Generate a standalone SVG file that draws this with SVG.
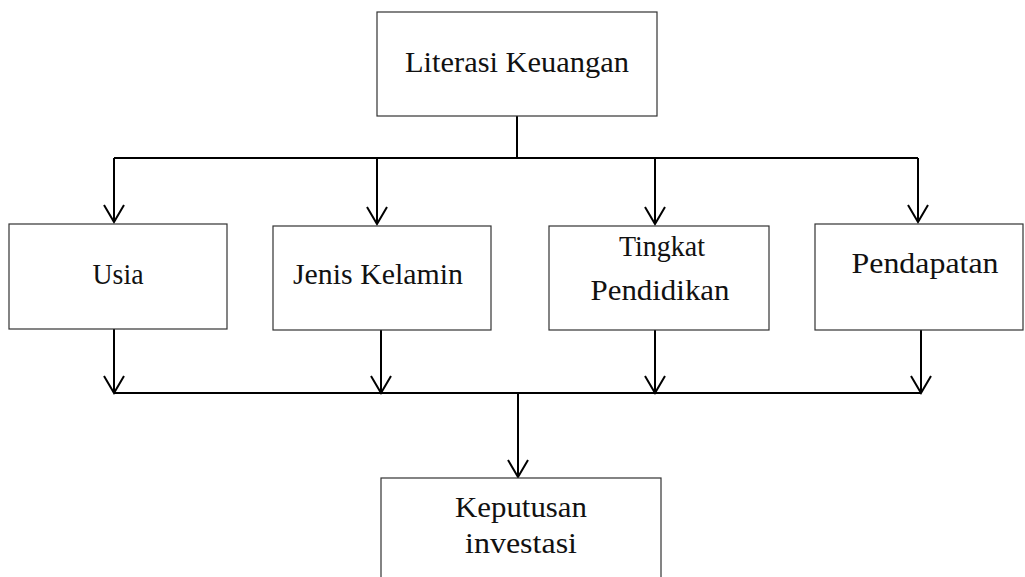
<svg xmlns="http://www.w3.org/2000/svg" width="1025" height="577" viewBox="0 0 1025 577">
<defs>
<style>
.box{fill:#fff;stroke:#333;stroke-width:1.2}
.lbl{font-family:"Liberation Serif","Times New Roman",serif;font-size:29px;fill:#111;text-anchor:middle}
.con{stroke:#000;stroke-width:2;fill:none}
</style>
<marker id="arr" markerUnits="userSpaceOnUse" orient="auto" refX="0" refY="0" markerWidth="20" markerHeight="24" overflow="visible">
<path d="M-17,-10 L0,0 L-17,10" fill="none" stroke="#000" stroke-width="2"/>
</marker>
</defs>
<rect width="1025" height="577" fill="#fff"/>
<g id="connectors">
<path class="con" d="M517,116 V158"/>
<path class="con" d="M114,158 H918"/>
<path class="con" d="M114,158 V222" marker-end="url(#arr)"/>
<path class="con" d="M377,158 V224" marker-end="url(#arr)"/>
<path class="con" d="M655,158 V224" marker-end="url(#arr)"/>
<path class="con" d="M918,158 V222" marker-end="url(#arr)"/>
<path class="con" d="M114,329 V393" marker-end="url(#arr)"/>
<path class="con" d="M381,330 V393" marker-end="url(#arr)"/>
<path class="con" d="M655,330 V393" marker-end="url(#arr)"/>
<path class="con" d="M921,330 V393" marker-end="url(#arr)"/>
<path class="con" d="M114,393 H921"/>
<path class="con" d="M518,393 V477" marker-end="url(#arr)"/>
</g>
<g id="literasi">
<rect class="box" x="377" y="12" width="280" height="104"/>
<text class="lbl" x="517" y="72" textLength="224" lengthAdjust="spacingAndGlyphs">Literasi Keuangan</text>
</g>
<g id="usia">
<rect class="box" x="9" y="224" width="218" height="105"/>
<text class="lbl" x="118" y="284" textLength="51" lengthAdjust="spacingAndGlyphs">Usia</text>
</g>
<g id="jenis">
<rect class="box" x="273" y="226" width="218" height="104"/>
<text class="lbl" x="378" y="284" textLength="170" lengthAdjust="spacingAndGlyphs">Jenis Kelamin</text>
</g>
<g id="tingkat">
<rect class="box" x="549" y="226" width="220" height="104"/>
<text class="lbl" x="662" y="256" textLength="86" lengthAdjust="spacingAndGlyphs">Tingkat</text>
<text class="lbl" x="660" y="300" textLength="139" lengthAdjust="spacingAndGlyphs">Pendidikan</text>
</g>
<g id="pendapatan">
<rect class="box" x="815" y="224" width="208" height="106"/>
<text class="lbl" x="925" y="273" textLength="147" lengthAdjust="spacingAndGlyphs">Pendapatan</text>
</g>
<g id="keputusan">
<rect class="box" x="381" y="478" width="280" height="120"/>
<text class="lbl" x="521" y="517" textLength="132" lengthAdjust="spacingAndGlyphs">Keputusan</text>
<text class="lbl" x="521" y="553" textLength="112" lengthAdjust="spacingAndGlyphs">investasi</text>
</g>
</svg>
